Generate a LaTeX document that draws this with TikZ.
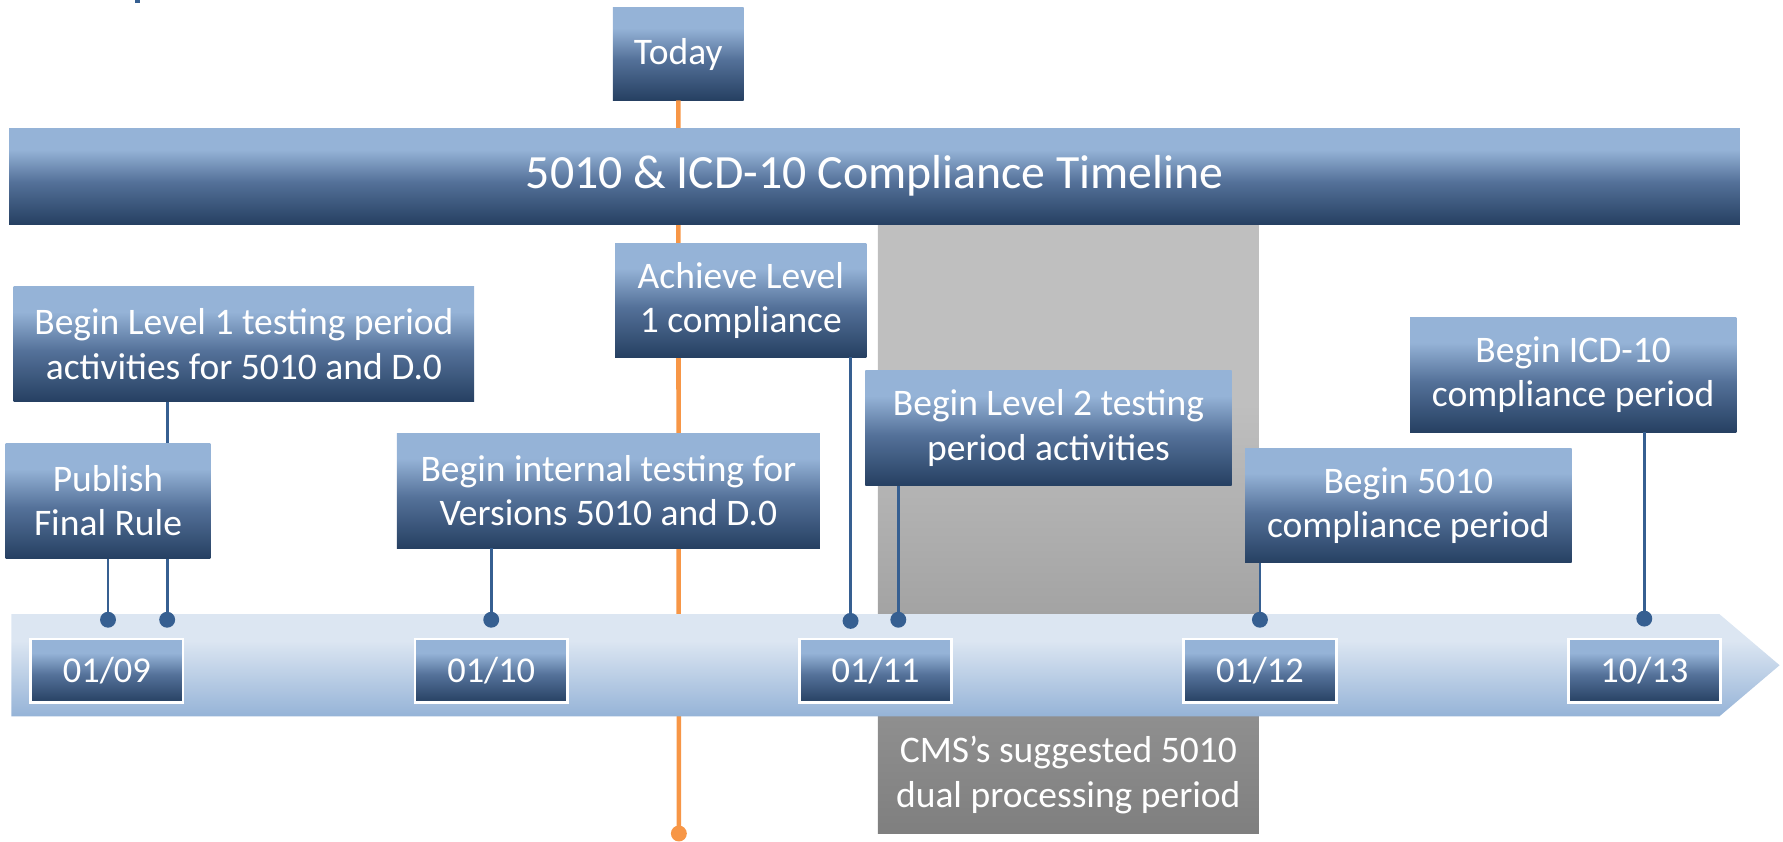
\documentclass[tikz,border=0pt]{standalone}
\usepackage{fontspec}
\setmainfont{Carlito}
\usetikzlibrary{calc}

\definecolor{boxlight}{RGB}{149,179,215}
\definecolor{boxmid}{RGB}{84,113,153}
\definecolor{boxdark}{RGB}{38,64,98}
\definecolor{bandlight}{RGB}{220,230,242}
\definecolor{banddark}{RGB}{149,179,215}
\definecolor{grayup}{RGB}{191,191,191}
\definecolor{grayupbot}{RGB}{163,163,163}
\definecolor{graylow}{RGB}{143,143,143}
\definecolor{graylowbot}{RGB}{127,127,127}
\definecolor{todaycol}{RGB}{247,150,70}
\definecolor{pincol}{RGB}{54,95,145}

\pgfdeclareverticalshading{boxshade}{100bp}{color(0bp)=(boxdark); color(25bp)=(boxdark); color(47bp)=(boxmid); color(64bp)=(boxlight); color(100bp)=(boxlight)}
\pgfdeclareverticalshading{bandshade}{100bp}{color(0bp)=(banddark); color(25bp)=(banddark); color(62bp)=(bandlight); color(100bp)=(bandlight)}
\pgfdeclareverticalshading{grayshade}{100bp}{color(0bp)=(grayupbot); color(25bp)=(grayupbot); color(52bp)=(grayup); color(100bp)=(grayup)}

\newcommand{\evfont}{\fontsize{33}{39}\selectfont}
\newcommand{\datefont}{\fontsize{32}{39}\selectfont}
\newcommand{\titlefont}{\fontsize{42}{50}\selectfont}

\tikzset{
  evbox/.style={rectangle, shade, shading=boxshade, text=white, align=center, inner sep=0pt, font=\evfont},
  datebox/.style={evbox, font=\datefont, draw=white, line width=2.5pt, minimum width=134pt, minimum height=56pt},
  pin/.style={draw=pincol, line width=2.5pt},
  pindot/.style={circle, fill=pincol, inner sep=0pt, minimum size=14pt},
  todayln/.style={draw=todaycol, line width=4pt}
}

\begin{document}
\begin{tikzpicture}[x=1pt,y=-1pt]
\useasboundingbox (0,0) rectangle (1568,740);

%cut-off glyph of the slide title
\fill[pincol] (119,0) rectangle (123,3);

%dual processing period
\shade[shading=grayshade] (772,197) rectangle (1107,540);
\node[rectangle, top color=graylow, bottom color=graylowbot, text=white, align=center, inner sep=0pt, font=\evfont, minimum width=335pt, minimum height=103pt] (dual) at (939.5,681.5) {CMS’s suggested 5010\\dual processing period};

%today marker
\node[evbox, minimum width=115pt, minimum height=81pt] (today) at (596.5,47.5) {Today};
\coordinate (todayend) at (597,733);
\draw[todayln] (today.south) -- (todayend);
\fill[todaycol] (todayend) circle (7);

%title bar
\node[evbox, font=\titlefont, minimum width=1522pt, minimum height=84pt] (title) at (769,155) {5010 \& ICD-10 Compliance Timeline};

%timeline arrow
\shade[shading=bandshade] (10,540) -- (1512,540) -- (1565,585) -- (1512,630) -- (10,630) -- cycle;

\foreach \m/\y [count=\i from 0] in {01/09,01/10,01/11,01/12,10/13}
{
	\node[datebox](date\i) at (94+338*\i,590){\m/\y};
}

%events
\node[evbox, minimum width=405pt, minimum height=101pt] (lvlone) at (214.5,302.5) {Begin Level 1 testing period\\activities for 5010 and D.0};
\node[evbox, minimum width=372pt, minimum height=101pt] (internal) at (535,431.5) {Begin internal testing for\\Versions 5010 and D.0};
\node[evbox, minimum width=221pt, minimum height=100pt] (achieve) at (651.5,264) {Achieve Level\\1 compliance};
\node[evbox, minimum width=322pt, minimum height=101pt] (lvltwo) at (922,376.5) {Begin Level 2 testing\\period activities};
\node[evbox, minimum width=287pt, minimum height=101pt] (comp) at (1238.5,444.5) {Begin 5010\\compliance period};
\node[evbox, minimum width=287pt, minimum height=101pt] (icd) at (1383.5,329.5) {Begin ICD-10\\compliance period};

%pins
\node[pindot] (pinlvlone) at (147,545) {};
\node[pindot] (pininternal) at (432,545) {};
\node[pindot] (pinachieve) at (748,546) {};
\node[pindot] (pinlvltwo) at (790,545) {};
\node[pindot] (pincomp) at (1108,545) {};
\node[pindot] (pinicd) at (1446,544) {};
\draw[pin] (lvlone.south -| pinlvlone) -- (pinlvlone.center);
\draw[pin] (internal.south -| pininternal) -- (pininternal.center);
\draw[pin] (achieve.south -| pinachieve) -- (pinachieve.center);
\draw[pin] (lvltwo.south -| pinlvltwo) -- (pinlvltwo.center);
\draw[pin] (comp.south -| pincomp) -- (pincomp.center);
\draw[pin] (icd.south -| pinicd) -- (pinicd.center);

%publish box covers the level 1 pin
\node[evbox, minimum width=180pt, minimum height=101pt] (publish) at (95,440.5) {Publish\\Final Rule};
\node[pindot] (pinpublish) at (95,545) {};
\draw[pin] (publish.south -| pinpublish) -- (pinpublish.center);
\end{tikzpicture}
\end{document}
